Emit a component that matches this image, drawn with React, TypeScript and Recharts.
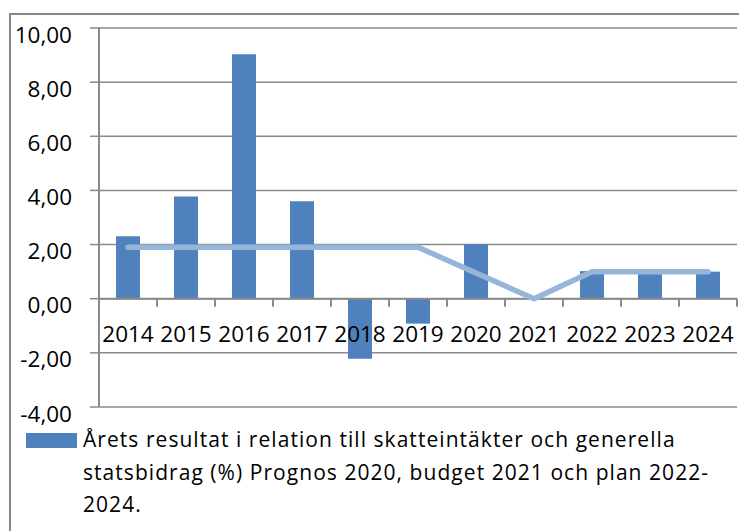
import { Bar, CartesianGrid, ComposedChart, Line, ReferenceLine, XAxis, YAxis } from 'recharts';

const years = ['2014', '2015', '2016', '2017', '2018', '2019', '2020', '2021', '2022', '2023', '2024'];
const resultat = [2.31, 3.78, 9.03, 3.6, -2.22, -0.92, 2.01, 0, 1.02, 1.0, 1.0];
const malniva = [1.9, 1.9, 1.9, 1.9, 1.9, 1.9, 0.95, 0, 1.0, 1.0, 1.0];
const yTicks = [-4, -2, 0, 2, 4, 6, 8, 10];

const legendLines = [
    'Årets resultat i relation till skatteintäkter och generella',
    'statsbidrag (%) Prognos 2020, budget 2021 och plan 2022-',
    '2024.',
];

const data = years.map((year, i) => ({ year, resultat: resultat[i], malniva: malniva[i] }));

const W = 739;
const H = 440;
const TOP = 28;
const X_AXIS_H = 33;
const Y_AXIS_W = 99;
const RIGHT = 2;
const PLOT_H = H - TOP - X_AXIS_H;
const BAND = (W - Y_AXIS_W - RIGHT) / years.length;
const Y_MIN = -4;
const Y_MAX = 10;
const ZERO_Y = TOP + (PLOT_H * Y_MAX) / (Y_MAX - Y_MIN);

const FONT = '"Open Sans", sans-serif';
const GRID = '#8a8a8a';

const fmt = (v: number) => v.toFixed(2).replace('.', ',');

// x labels sit on the zero line, not at the bottom of the plot
function YearTick(props: any) {
    const { x, payload, index } = props;
    const last = index === years.length - 1;
    return (
        <g>
            <line x1={x - BAND / 2} x2={x - BAND / 2} y1={ZERO_Y} y2={ZERO_Y + 8} stroke={GRID} strokeWidth={2} />
            {last && <line x1={x + BAND / 2} x2={x + BAND / 2} y1={ZERO_Y} y2={ZERO_Y + 8} stroke={GRID} strokeWidth={2} />}
            <text x={x} y={ZERO_Y + 35} textAnchor="middle" dominantBaseline="central" fontSize={22.5} fontFamily={FONT} fill="#000">
                {payload.value}
            </text>
        </g>
    );
}

function ValueTick(props: any) {
    const { x, y, payload } = props;
    return (
        <text x={x} y={y + 6} textAnchor="end" dominantBaseline="central" fontSize={22.5} fontFamily={FONT} fill="#000">
            {fmt(payload.value)}
        </text>
    );
}

export default function App() {
    return (
        <div style={{ position: 'absolute', left: 0, top: 0, width: 739, height: 531, overflow: 'hidden', background: '#fff' }}>
            <div style={{ position: 'absolute', left: 9, top: 13, width: 800, height: 600, border: '2px solid #878787' }} />
            <div style={{ position: 'absolute', left: 0, top: 0 }}>
                <ComposedChart width={W} height={H} data={data} margin={{ top: TOP, right: RIGHT, left: 0, bottom: 0 }}>
                    <CartesianGrid vertical={false} stroke={GRID} strokeWidth={1.5} />
                    <XAxis dataKey="year" height={X_AXIS_H} axisLine={false} tickLine={false} tick={<YearTick />} interval={0} />
                    <YAxis
                        width={Y_AXIS_W}
                        domain={[Y_MIN, Y_MAX]}
                        ticks={yTicks}
                        axisLine={{ stroke: GRID, strokeWidth: 2 }}
                        tickLine={{ stroke: GRID, strokeWidth: 1.5 }}
                        tickSize={9}
                        tickMargin={18}
                        tick={<ValueTick />}
                    />
                    <ReferenceLine y={0} stroke={GRID} strokeWidth={2} />
                    <Bar dataKey="resultat" fill="#4f81bd" barSize={24} isAnimationActive={false} />
                    <Line
                        dataKey="malniva"
                        stroke="#97b5d9"
                        strokeWidth={5.5}
                        strokeLinecap="round"
                        strokeLinejoin="round"
                        dot={false}
                        type="linear"
                        isAnimationActive={false}
                    />
                </ComposedChart>
            </div>
            <div style={{ position: 'absolute', left: 26, top: 433, width: 51, height: 15, background: '#4f81bd' }} />
            <div
                style={{
                    position: 'absolute',
                    left: 83,
                    top: 423,
                    fontFamily: FONT,
                    fontSize: 21,
                    lineHeight: '32.5px',
                    letterSpacing: '1.05px',
                    color: '#000',
                    whiteSpace: 'nowrap',
                }}
            >
                {legendLines.map((l) => (
                    <div key={l}>{l}</div>
                ))}
            </div>
        </div>
    );
}
